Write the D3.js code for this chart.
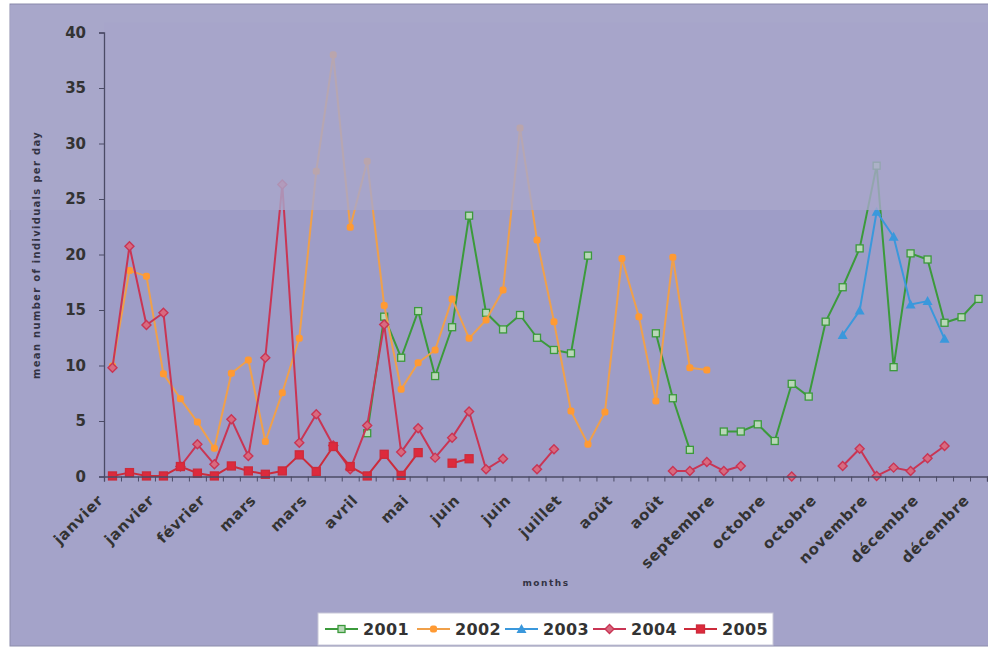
<!DOCTYPE html>
<html>
<head>
<meta charset="utf-8">
<script src="https://cdn.jsdelivr.net/npm/d3@7"></script>
<style>
  html, body { margin: 0; padding: 0; background: #ffffff; }
  svg { display: block; }
  text { font-family: "DejaVu Sans", "Liberation Sans", sans-serif; font-weight: bold; }
</style>
</head>
<body>
<script>
// ---------- DATA ----------
const weeks = d3.range(52); // weekly categories
const monthLabels = ["janvier","janvier","février","mars","mars","avril","mai","juin","juin",
  "juillet","août","août","septembre","octobre","octobre","novembre","décembre","décembre"];
const labelStep = 3;
const yTicks = [0,5,10,15,20,25,30,35,40];
const seriesNames = ["2001","2002","2003","2004","2005"];

const N = null;
const s2001 = [N,N,N,N,N,N,N,N,N,N,N,N,N,N,N,
  3.9,14.4,10.7,14.9,9.05,13.45,23.5,14.75,13.25,14.55,12.5,11.4,11.1,19.9,
  N,N,N,12.9,7.05,2.4,N,4.05,4.05,4.7,3.2,8.35,7.2,13.95,17.05,20.55,28.0,9.85,20.1,19.55,13.85,14.35,16.0];
const s2002 = [9.95,18.55,18.05,9.25,7.0,4.9,2.55,9.3,10.5,3.15,7.55,12.45,27.5,38.0,22.45,28.4,15.4,7.85,10.25,11.4,
  16.0,12.45,14.1,16.8,31.4,21.3,13.95,5.9,2.9,5.8,19.65,14.4,6.8,19.75,9.8,9.6,
  N,N,N,N,N,N,N,N,N,N,N,N,N,N,N,N];
const s2003 = [N,N,N,N,N,N,N,N,N,N,N,N,N,N,N,N,N,N,N,N,N,N,N,N,N,N,N,N,N,N,N,N,N,N,N,N,N,N,N,N,N,N,N,
  12.75,14.95,23.85,21.6,15.5,15.8,12.4,N,N];
const s2004 = [9.8,20.75,13.65,14.75,0.9,2.9,1.1,5.15,1.85,10.7,26.3,3.05,5.6,2.8,0.65,4.6,13.7,2.2,4.35,1.7,
  3.5,5.85,0.65,1.6,N,0.65,2.45,N,N,N,N,N,N,0.5,0.5,1.3,0.5,0.95,N,N,0.0,N,N,0.95,2.5,0.05,0.8,0.5,1.65,2.75,N,N];
const s2005 = [0.05,0.35,0.05,0.05,0.9,0.3,0.05,0.95,0.5,0.2,0.5,1.95,0.45,2.7,0.9,0.05,2.0,0.1,2.15,N,1.2,1.6,
  N,N,N,N,N,N,N,N,N,N,N,N,N,N,N,N,N,N,N,N,N,N,N,N,N,N,N,N,N,N];

// ---------- STYLE ----------
const styles = {
  "2001": {stroke:"#3b9a3b", fill:"#b9d7b8", marker:"square", size:7},
  "2002": {stroke:"#f0a04a", fill:"#ff9a33", marker:"dot", size:7},
  "2003": {stroke:"#3a98dc", fill:"#3a98dc", marker:"triangle", size:8},
  "2004": {stroke:"#c93554", fill:"#d86a80", marker:"diamond", size:7},
  "2005": {stroke:"#cc2b3b", fill:"#dd2a3c", marker:"square", size:8}
};
const seriesData = {"2001":s2001,"2002":s2002,"2003":s2003,"2004":s2004,"2005":s2005};

const W = 988, H = 650;
const svg = d3.select("body").append("svg").attr("width", W).attr("height", H);

// chart area background
svg.append("rect").attr("x",0).attr("y",0).attr("width",W).attr("height",H).attr("fill","#ffffff");
svg.append("rect").attr("x",10).attr("y",4).attr("width",W).attr("height",H-8)
  .attr("fill","#a4a3c9").attr("stroke","#8c8cab").attr("stroke-width",1);

const x0 = 104, x1 = 987, yTop = 32.5, yBot = 476.5;
const x = d3.scaleBand().domain(weeks).range([x0, x1]).paddingInner(0).paddingOuter(0);
const xb = d3.scaleLinear().domain([0, weeks.length]).range([x0, x1]);
const y = d3.scaleLinear().domain([0, 40]).range([yBot, yTop]);

// plot area
svg.append("rect").attr("x",x0).attr("y",yTop - 10).attr("width",x1-x0+2).attr("height",yBot-yTop+10)
  .attr("fill","#9e9dc7");

// series
const cx = i => x(i) + x.bandwidth()/2;
const line = d3.line().defined(d => d.v != null).x(d => cx(d.i)).y(d => y(d.v));
const gS = svg.append("g");
seriesNames.forEach(name => {
  const st = styles[name];
  const pts = seriesData[name].map((v,i) => ({i, v}));
  gS.append("path").datum(pts).attr("d", line).attr("fill","none")
    .attr("stroke", st.stroke).attr("stroke-width", 2).attr("stroke-linejoin","round");
  const valid = pts.filter(d => d.v != null);
  drawMarkers(gS, valid.map(d => [cx(d.i), y(d.v)]), st);
});

function drawMarkers(g, coords, st) {
  const s = st.size;
  coords.forEach(([px,py]) => {
    if (st.marker === "square") {
      g.append("rect").attr("x",px-s/2).attr("y",py-s/2).attr("width",s).attr("height",s)
        .attr("fill",st.fill).attr("stroke",st.stroke).attr("stroke-width",1.3);
    } else if (st.marker === "dot") {
      g.append("rect").attr("x",px-s/2).attr("y",py-s/2).attr("width",s).attr("height",s)
        .attr("rx",2.5).attr("fill",st.fill).attr("stroke","none");
    } else if (st.marker === "triangle") {
      g.append("path").attr("d",`M${px},${py-s/2-1}L${px+s/2+1},${py+s/2}L${px-s/2-1},${py+s/2}Z`)
        .attr("fill",st.fill);
    } else if (st.marker === "diamond") {
      g.append("path").attr("d",`M${px},${py-s/2-1}L${px+s/2+1},${py}L${px},${py+s/2+1}L${px-s/2-1},${py}Z`)
        .attr("fill",st.fill).attr("stroke",st.stroke).attr("stroke-width",1.4);
    }
  });
}

// faded upper band (scan artefact in the reference)
svg.append("rect").attr("x",10).attr("y",5).attr("width",W).attr("height",210-5)
  .attr("fill","#a9a8ca").attr("opacity",0.8);

// axes
const axisColor = "#4b4b66";
const yAxis = svg.append("g").attr("transform",`translate(${x0},0)`)
  .call(d3.axisLeft(y).tickValues(yTicks).tickSize(5).tickPadding(13));
yAxis.select(".domain").attr("stroke",axisColor).attr("stroke-width",1.3);
yAxis.selectAll(".tick line").attr("stroke",axisColor);
yAxis.selectAll(".tick text").attr("fill","#333333").attr("font-size","15px")
  .attr("font-family","DejaVu Sans, sans-serif").attr("font-weight","bold");

const xAxis = svg.append("g").attr("transform",`translate(0,${yBot})`)
  .call(d3.axisBottom(xb).tickValues(d3.range(weeks.length+1)).tickSize(5).tickFormat(""));
xAxis.select(".domain").attr("stroke",axisColor).attr("stroke-width",1.3);
xAxis.selectAll(".tick line").attr("stroke",axisColor);

// x labels (every 3rd category)
const gL = svg.append("g");
monthLabels.forEach((lab, k) => {
  const i = k * labelStep;
  const ax = cx(i) - 12, ay = yBot + 21;
  gL.append("text").attr("transform",`translate(${ax},${ay}) rotate(-45)`)
    .attr("text-anchor","end").attr("dy","0.35em")
    .attr("font-size","15px").attr("letter-spacing","0.6px").attr("fill","#333333").text(lab);
});

// axis titles
svg.append("text").attr("x",546).attr("y",586).attr("text-anchor","middle")
  .attr("font-size","9px").attr("letter-spacing","1.5px").attr("fill","#333344").text("months");
svg.append("text").attr("transform","translate(40,255) rotate(-90)").attr("text-anchor","middle")
  .attr("font-size","10px").attr("letter-spacing","1.3px").attr("fill","#333344")
  .text("mean number of individuals per day");

// legend
const lg = svg.append("g");
lg.append("rect").attr("x",318).attr("y",613).attr("width",455).attr("height",32)
  .attr("fill","#ffffff").attr("stroke","#c8c8d8").attr("stroke-width",1);
const legendX = [325, 417, 505, 593, 684];
seriesNames.forEach((name, k) => {
  const st = styles[name];
  const lx = legendX[k], ly = 629;
  lg.append("line").attr("x1",lx).attr("x2",lx+33).attr("y1",ly).attr("y2",ly)
    .attr("stroke",st.stroke).attr("stroke-width",2);
  drawMarkers(lg, [[lx+16.5, ly]], st);
  lg.append("text").attr("x",lx+38).attr("y",ly).attr("dy","0.36em")
    .attr("font-size","16px").attr("letter-spacing","0.4px").attr("fill","#333333").text(name);
});
</script>
</body>
</html>
